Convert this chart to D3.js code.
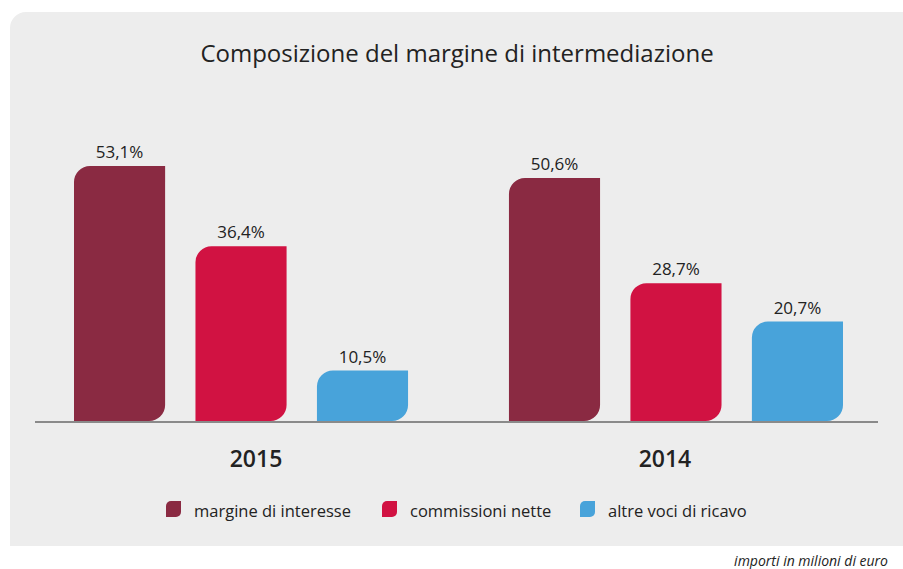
<!DOCTYPE html>
<html>
<head>
<meta charset="utf-8">
<script src="https://cdn.jsdelivr.net/npm/d3@7"></script>
<style>
body { margin: 0; background: #fff; }
svg text { font-family: "Open Sans", "Noto Sans", sans-serif; fill: #222; }
</style>
</head>
<body>
<script>
var years = ["2015", "2014"];
var series = ["margine di interesse", "commissioni nette", "altre voci di ricavo"];
var colors = ["#8a2a42", "#d11242", "#48a3da"];
var values2015 = [53.1, 36.4, 10.5];
var values2014 = [50.6, 28.7, 20.7];

function leafPath(x, y, w, h, r){
	r = Math.min(r, h / 2, w / 2);
	return "M" + x + "," + (y + r) +
		"A" + r + "," + r + " 0 0 1 " + (x + r) + "," + y +
		"L" + (x + w) + "," + y +
		"L" + (x + w) + "," + (y + h - r) +
		"A" + r + "," + r + " 0 0 1 " + (x + w - r) + "," + (y + h) +
		"L" + x + "," + (y + h) + "Z";
}

function drawChart(){
	var width = 903, height = 569;
	var svg = d3.select("body").append("svg")
		.attr("width", width)
		.attr("height", height);

	// panel
	svg.append("path")
		.attr("d", leafPath(10, 12, 920, 534, 16))
		.attr("fill", "#ededed");

	svg.append("text")
		.attr("x", 457)
		.attr("y", 62)
		.attr("text-anchor", "middle")
		.style("font-size", "24px")
		.text("Composizione del margine di intermediazione");

	var data = [values2015, values2014];

	var x0 = d3.scaleBand().domain(years).range([74, 843]).paddingInner(0.232).paddingOuter(0);
	var x1 = d3.scaleBand().domain(series).range([0, x0.bandwidth()]).paddingInner(0.25);
	var y = d3.scaleLinear().domain([0, 53.1]).range([421, 166]);

	var groups = svg.selectAll("g.year")
		.data(years)
		.enter().append("g")
		.attr("class", "year")
		.attr("transform", function(d){ return "translate(" + x0(d) + ",0)"; });

	groups.each(function(yr, gi){
		var g = d3.select(this);
		data[gi].forEach(function(v, i){
			var bx = x1(series[i]);
			g.append("path")
				.attr("d", leafPath(bx, y(v), x1.bandwidth(), y(0) - y(v), 16))
				.attr("fill", colors[i]);
			g.append("text")
				.attr("x", bx + x1.bandwidth() / 2)
				.attr("y", y(v) - 8)
				.attr("text-anchor", "middle")
				.style("font-size", "17px")
				.text(d3.format(".1f")(v).replace(".", ",") + "%");
		});
	});

	// baseline
	svg.append("line")
		.attr("x1", 35).attr("x2", 878)
		.attr("y1", y(0) + 1).attr("y2", y(0) + 1)
		.attr("stroke", "#8a8a8a")
		.attr("stroke-width", 2);

	var nudge = [15, -11];
	svg.selectAll("text.yr")
		.data(years)
		.enter().append("text")
		.attr("class", "yr")
		.attr("x", function(d, i){ return x0(d) + x0.bandwidth() / 2 + nudge[i]; })
		.attr("y", 467)
		.attr("text-anchor", "middle")
		.style("font-size", "23px")
		.style("font-weight", "600")
		.text(function(d){ return d; });

	var legendX = [166, 382, 580];
	var legend = svg.selectAll("g.legend")
		.data(series)
		.enter().append("g")
		.attr("class", "legend")
		.attr("transform", function(d, i){ return "translate(" + legendX[i] + ",501)"; });
	legend.append("path")
		.attr("d", leafPath(0, 0, 15, 16, 5))
		.attr("fill", function(d, i){ return colors[i]; });
	legend.append("text")
		.attr("x", 28)
		.attr("y", 16)
		.style("font-size", "16.5px")
		.text(function(d){ return d; });

	svg.append("text")
		.attr("x", 888)
		.attr("y", 566)
		.attr("text-anchor", "end")
		.style("font-size", "14px")
		.style("font-style", "italic")
		.text("importi in milioni di euro");
}

drawChart();
</script>
</body>
</html>
